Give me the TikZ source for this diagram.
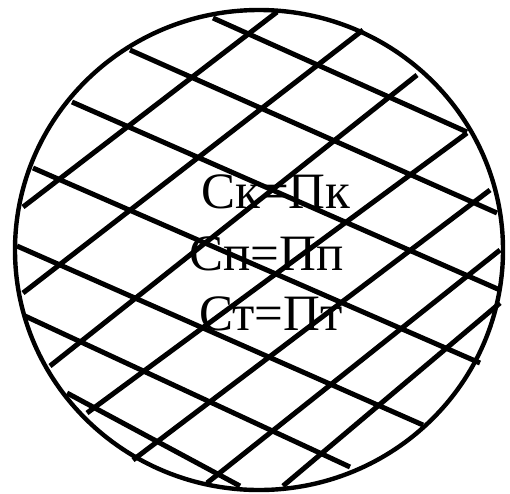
\documentclass[tikz,border=0pt]{standalone}
\usepackage{fontspec}
\setmainfont{Liberation Serif}
\begin{document}
\begin{tikzpicture}[x=1pt,y=-1pt]
\tikzset{hatch/.style={line width=5pt}, rim/.style={line width=4.4pt}, eqtext/.style={anchor=base west, inner sep=0pt, font=\fontsize{51}{60}\selectfont}}
\useasboundingbox (0,0) rectangle (510,493);
\node[eqtext] (ck) at (201,208) {Ск=Пк};
\node[eqtext] (cp) at (189,270) {Сп=Пп};
\node[eqtext] (ct) at (199,330) {Ст=Пт};

\draw[hatch] (213,18) -- (467,132);
\draw[hatch] (130,50) -- (497,213);
\draw[hatch] (72,102) -- (500,290);
\draw[hatch] (33,168) -- (480,363);
\draw[hatch] (17,246) -- (423,425);
\draw[hatch] (25,316) -- (350,467);
\draw[hatch] (67,393) -- (240,486);

\draw[hatch] (23,207) -- (277,12);
\draw[hatch] (23,293) -- (363,30);
\draw[hatch] (50,366) -- (417,75);
\draw[hatch] (87,413) -- (467,133);
\draw[hatch] (133,460) -- (490,190);
\draw[hatch] (207,483) -- (500,250);
\draw[hatch] (283,486) -- (500,303);

\draw[rim] (259,250) ellipse [x radius=244, y radius=240];
\end{tikzpicture}
\end{document}
